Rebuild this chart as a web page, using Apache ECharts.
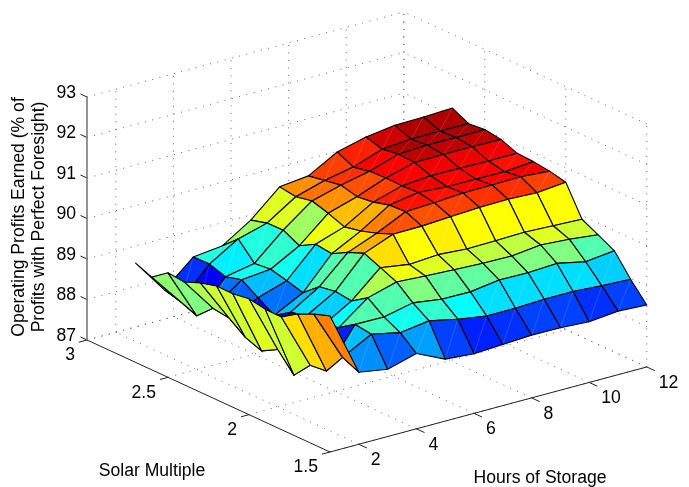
<!DOCTYPE html>
<html>
<head>
<meta charset="utf-8">
<style>html,body{margin:0;padding:0;background:#fff}#c{width:689px;height:487px}</style>
<script src="https://cdn.jsdelivr.net/npm/echarts@6/dist/echarts.min.js"></script>
</head>
<body>
<div id="c"></div>
<script>
// ---- data ----
const hoursOfStorage = [1,2,3,4,5,6,7,8,9,10,11,12];
const solarMultiple = [1.5,1.6,1.7,1.8,1.9,2.0,2.1,2.2,2.3,2.4,2.5,2.6,2.7];
// one row per hour of storage, one value per solar multiple
const profit = [
 [90.36,90.22,90.04,89.78,89.79,89.86,89.80,89.81,89.70,89.54,89.58,89.29,89.45],
 [88.78,88.96,88.44,88.40,87.97,88.42,88.20,88.35,88.64,88.70,88.33,88.49,88.60],
 [88.66,89.34,89.40,89.14,89.00,89.06,88.96,88.70,88.95,89.21,89.10,89.23,89.22],
 [88.86,89.19,89.39,89.68,89.42,89.47,89.40,89.07,89.18,89.28,89.24,89.66,89.30],
 [88.53,89.29,89.55,89.88,90.05,90.22,90.06,89.84,89.89,89.67,89.87,89.86,89.75],
 [88.47,89.14,89.45,89.84,89.94,90.50,90.34,90.21,90.13,90.28,90.40,90.32,90.38],
 [88.51,89.03,89.44,89.80,89.99,90.51,90.68,90.66,90.55,90.50,90.60,90.53,90.46],
 [88.55,89.03,89.54,89.77,89.94,90.55,90.71,90.78,90.76,90.77,90.75,90.67,90.86],
 [88.54,89.06,89.53,89.76,89.95,90.59,90.76,90.73,90.82,90.96,90.98,90.92,91.04],
 [88.50,89.06,89.57,89.84,89.97,90.60,90.77,90.73,90.81,90.97,91.02,90.98,91.14],
 [88.57,89.01,89.42,89.79,89.94,90.57,90.78,90.72,90.80,90.97,91.01,90.99,91.15],
 [88.53,88.98,89.50,89.71,89.91,90.64,90.73,90.78,90.80,90.96,91.02,90.98,91.18]
];
const hourTicks = [2,4,6,8,10,12];
const solarTicks = [1.5,2,2.5,3];
const profitTicks = [87,88,89,90,91,92,93];
const yAxisTitle = 'Operating Profits Earned (% of\nProfits with Perfect Foresight)';
const xAxisTitle = 'Hours of Storage';
const sAxisTitle = 'Solar Multiple';

// ---- 3D view: orthographic projection onto the page plane ----
const H0 = 1, H1 = 12, S0 = 1.5, S1 = 3, Z0 = 87, Z1 = 93;
const origin = [330, 452];
const perHour = [28.8, -7.73], perSolar = [-162, -74.67], perProfit = -40.5;
function project(h, s, z) {
  return [
    origin[0] + (h - H0) * perHour[0] + (s - S0) * perSolar[0],
    origin[1] + (h - H0) * perHour[1] + (s - S0) * perSolar[1] + (z - Z0) * perProfit
  ];
}
// ---- MATLAB jet(64) with limits taken from the data ----
const allZ = profit.flat();
const cMin = Math.min(...allZ), cMax = Math.max(...allZ);
function u(k) { return k < 1 ? 0 : k <= 16 ? k / 16 : k <= 31 ? 1 : k <= 47 ? (48 - k) / 16 : 0; }
function jet(z) {
  let i = Math.floor((z - cMin) / (cMax - cMin) * 64) + 1;
  i = Math.min(64, Math.max(1, i));
  return `rgb(${Math.round(u(i - 24) * 255)},${Math.round(u(i - 8) * 255)},${Math.round(u(i + 8) * 255)})`;
}
// ---- layers ----
const gridSegs = [];
for (const h of hourTicks) {
  gridSegs.push([[h, S1, Z0], [h, S1, Z1]]);
  gridSegs.push([[h, S0, Z0], [h, S1, Z0]]);
}
for (const s of solarTicks) {
  gridSegs.push([[H1, s, Z0], [H1, s, Z1]]);
  gridSegs.push([[H0, s, Z0], [H1, s, Z0]]);
}
for (const z of profitTicks) {
  gridSegs.push([[H0, S1, z], [H1, S1, z]]);
  gridSegs.push([[H1, S0, z], [H1, S1, z]]);
}
const axisSegs = [
  [[H0, S0, Z0], [H1, S0, Z0]],
  [[H0, S0, Z0], [H0, S1, Z0]]
];
for (const h of hourTicks) axisSegs.push([[h, S0, Z0], [h, S0 - 0.05, Z0]]);
for (const s of solarTicks) axisSegs.push([[H0, s, Z0], [H0 - 0.28, s, Z0]]);
for (const z of profitTicks) axisSegs.push([[H0, S1, z], [H0, S1 + 0.04, z]]);
const zAxisSeg = [[[H0, S1, Z0], [H0, S1, Z1]]];

const cells = [];
for (let i = hoursOfStorage.length - 2; i >= 0; i--)
  for (let j = solarMultiple.length - 2; j >= 0; j--) cells.push([i, j]);

const labels = [];
for (const h of hourTicks) labels.push({ p: [h, S0, Z0], t: String(h), a: 'left', dx: 12, dy: 16 });
for (const s of solarTicks) labels.push({ p: [H0, s, Z0], t: String(s), a: 'right', dx: -12, dy: 15.5 });
for (const z of profitTicks) labels.push({ p: [H0, S1, z], t: String(z), a: 'right', dx: -11, dy: -4 });

const FONT = '17.6px "Liberation Sans", Arial, sans-serif';
const pt = (api, p) => api.coord(project(p[0], p[1], p[2]));

function segSeries(segs, style, z) {
  return {
    type: 'custom', coordinateSystem: 'cartesian2d', silent: true, z, clip: false,
    data: segs.map((_, i) => [i, 0]), encode: { x: 0, y: 1 },
    renderItem(params, api) {
      const s = segs[api.value(0)], a = pt(api, s[0]), b = pt(api, s[1]);
      return { type: 'line', shape: { x1: a[0], y1: a[1], x2: b[0], y2: b[1] }, style };
    }
  };
}

const option = {
  animation: false,
  backgroundColor: '#fff',
  grid: { left: 0, right: 0, top: 0, bottom: 0 },
  xAxis: { type: 'value', min: 0, max: 689, show: false },
  yAxis: { type: 'value', min: 0, max: 487, inverse: true, show: false },
  series: [
    segSeries(gridSegs, { stroke: '#666', lineWidth: 1, lineDash: [1, 6.5], fill: null }, 1),
    segSeries(axisSegs, { stroke: '#222', lineWidth: 1, fill: null }, 2),
    segSeries(zAxisSeg, { stroke: '#7a7a7a', lineWidth: 1.6, fill: null }, 2),
    {
      type: 'custom', coordinateSystem: 'cartesian2d', silent: true, z: 3, clip: false,
      data: cells, encode: { x: 0, y: 1 },
      renderItem(params, api) {
        const i = api.value(0), j = api.value(1);
        const h0 = hoursOfStorage[i], h1 = hoursOfStorage[i + 1];
        const s0 = solarMultiple[j], s1 = solarMultiple[j + 1];
        const a = pt(api, [h0, s0, profit[i][j]]);
        const b = pt(api, [h1, s0, profit[i + 1][j]]);
        const c = pt(api, [h1, s1, profit[i + 1][j + 1]]);
        const d = pt(api, [h0, s1, profit[i][j + 1]]);
        const fill = jet(profit[i][j]);
        return {
          type: 'group',
          children: [
            { type: 'polygon', shape: { points: [a, b, c, d] }, style: { fill, stroke: 'none' } },
            { type: 'line', shape: { x1: a[0], y1: a[1], x2: c[0], y2: c[1] },
              style: { stroke: 'rgba(255,255,255,0.22)', lineWidth: 0.7, fill: null } },
            { type: 'polygon', shape: { points: [a, b, c, d] },
              style: { fill: 'none', stroke: '#000', lineWidth: 1.1, lineJoin: 'round' } }
          ]
        };
      }
    },
    {
      type: 'custom', coordinateSystem: 'cartesian2d', silent: true, z: 4, clip: false,
      data: labels.map((_, i) => [i, 0]), encode: { x: 0, y: 1 },
      renderItem(params, api) {
        const l = labels[api.value(0)], a = pt(api, l.p);
        return { type: 'text', style: { x: a[0] + l.dx, y: a[1] + l.dy, text: l.t, font: FONT,
          fill: '#000', textAlign: l.a, textVerticalAlign: 'middle' } };
      }
    }
  ],
  graphic: [
    { type: 'text', x: 29, y: 217, rotation: Math.PI / 2,
      style: { text: yAxisTitle, font: FONT, lineHeight: 20, fill: '#000', textAlign: 'center', textVerticalAlign: 'middle' } },
    { type: 'text', x: 152, y: 471,
      style: { text: sAxisTitle, font: FONT, fill: '#000', textAlign: 'center', textVerticalAlign: 'middle' } },
    { type: 'text', x: 540, y: 478,
      style: { text: xAxisTitle, font: FONT, fill: '#000', textAlign: 'center', textVerticalAlign: 'middle' } }
  ]
};
echarts.init(document.getElementById('c'), null, { renderer: 'canvas' }).setOption(option);
</script>
</body>
</html>
